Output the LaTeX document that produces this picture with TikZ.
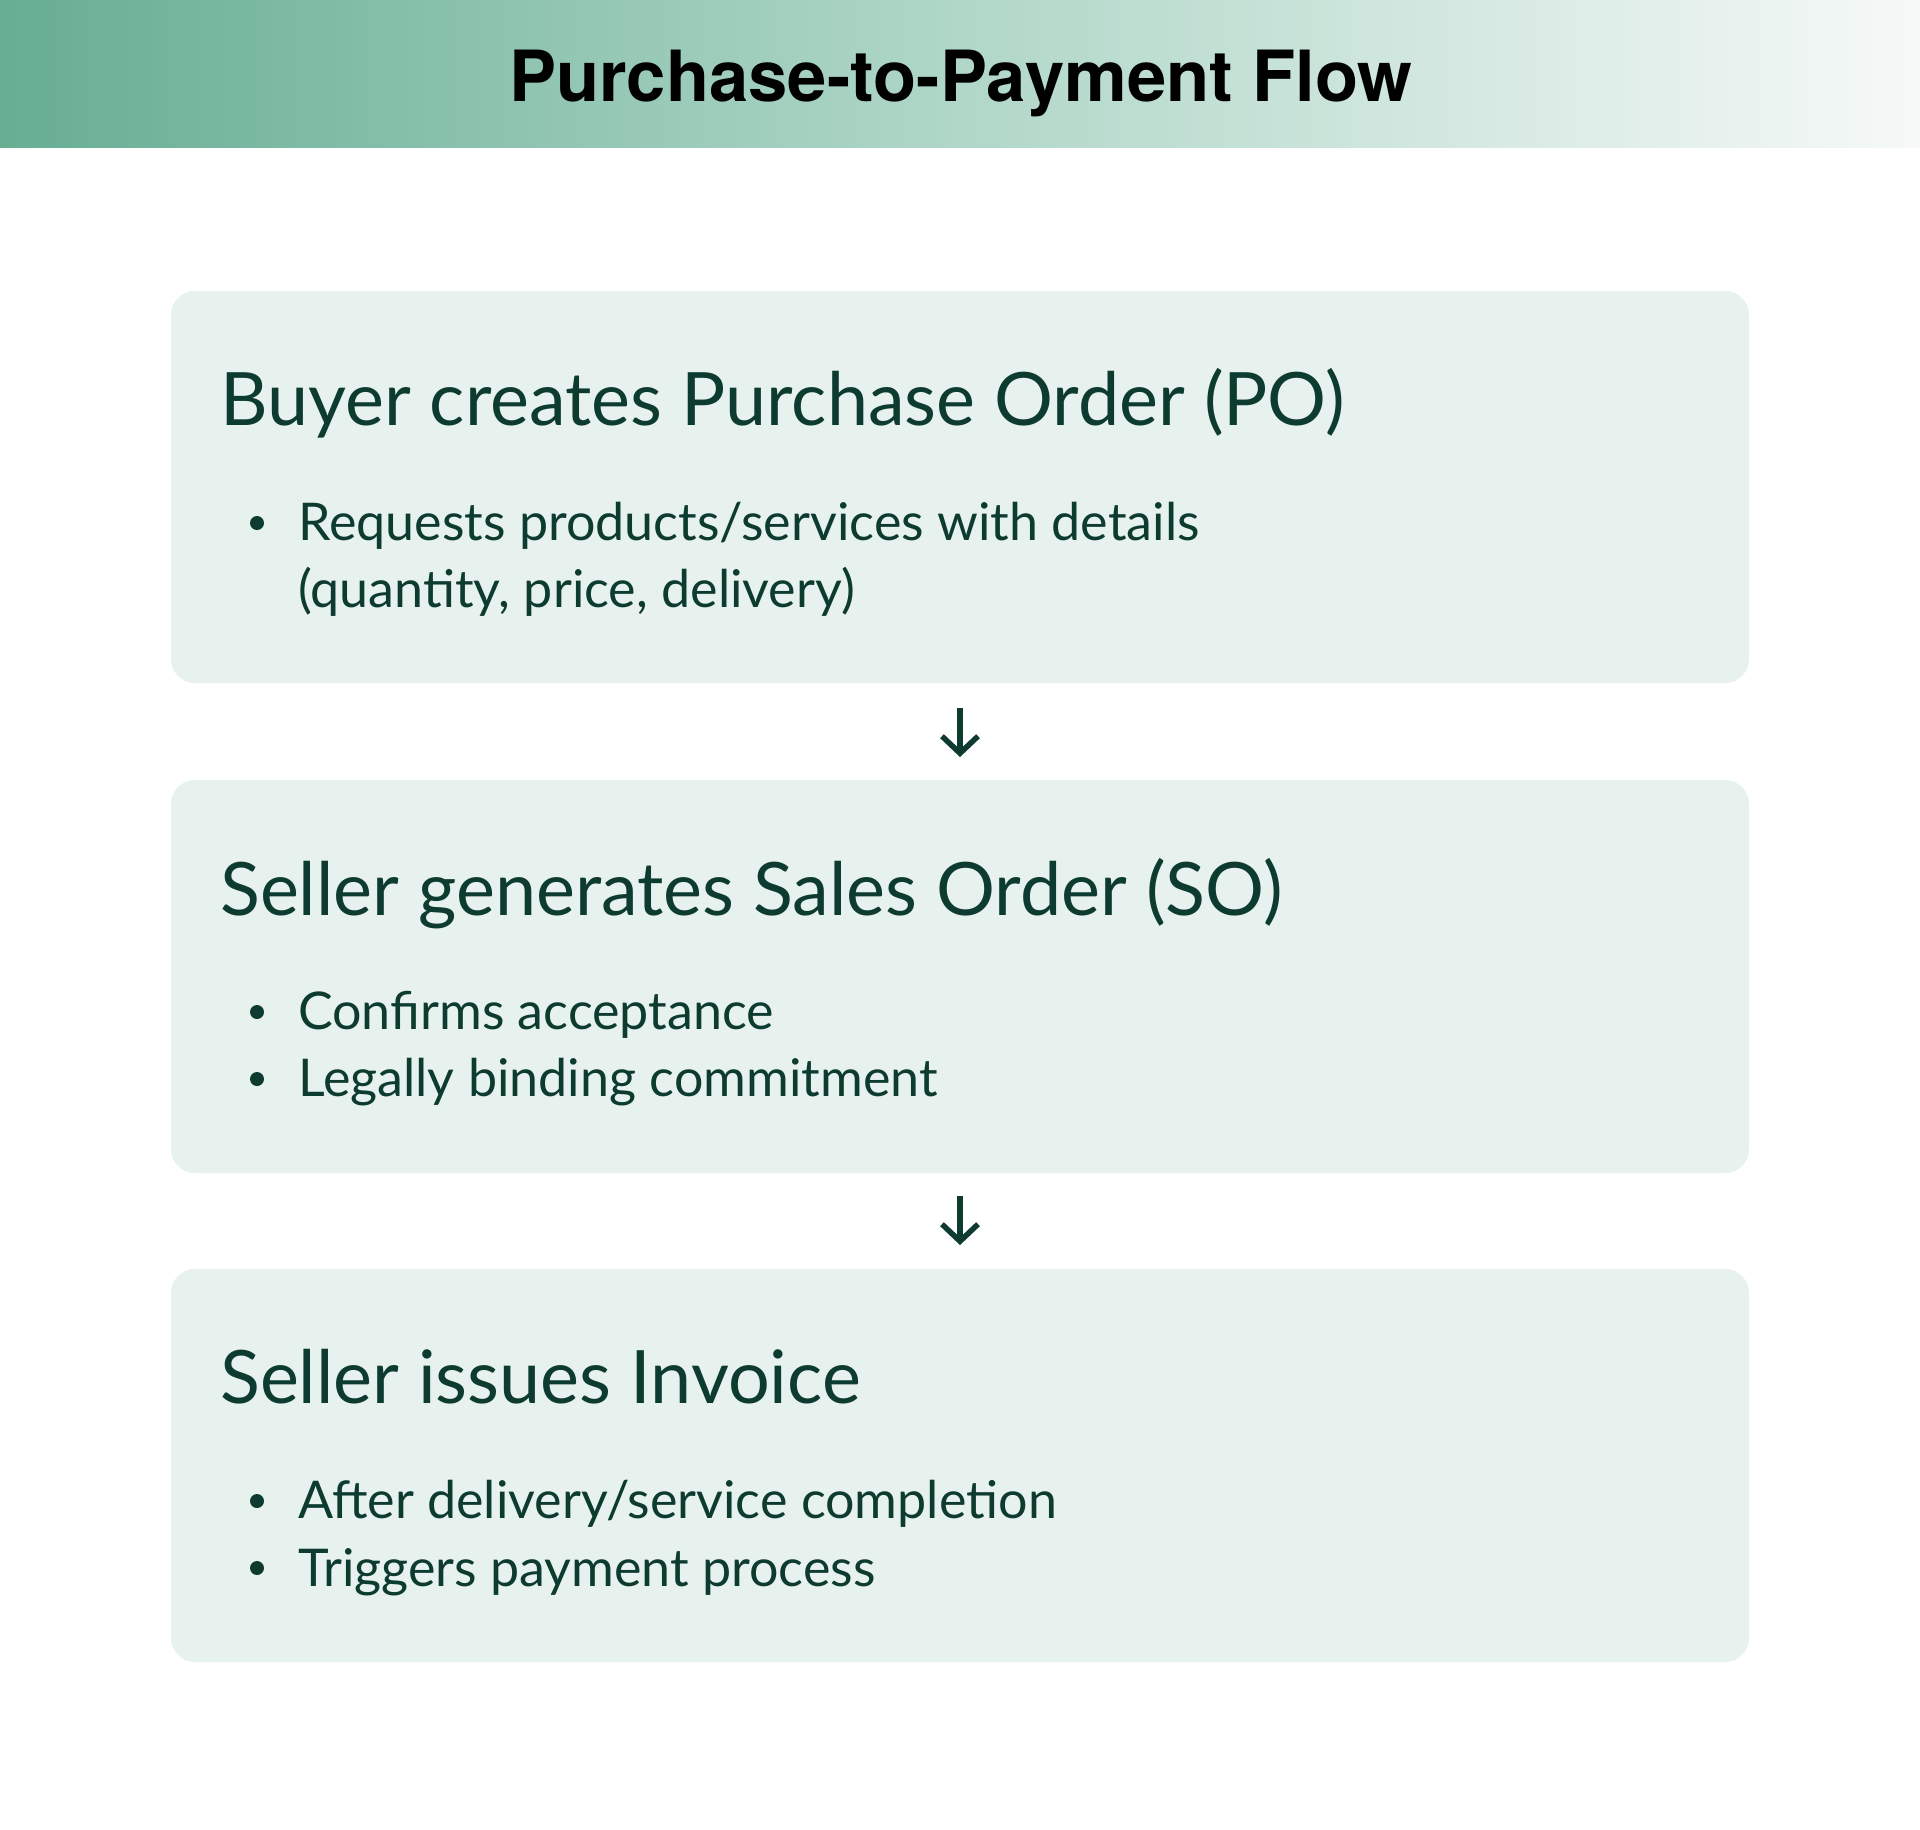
\documentclass[tikz,border=0pt]{standalone}
\usepackage{fontspec}
\setmainfont{Lato}
\newfontfamily\titlefont{TeX Gyre Heros}
\usetikzlibrary{arrows.meta}
\definecolor{ink}{HTML}{0D3B30}
\definecolor{boxfill}{HTML}{E7F1EE}
\definecolor{bannerL}{HTML}{67AE93}
\definecolor{bannerM}{HTML}{B0D7C8}
\definecolor{bannerR}{HTML}{F6F9F8}
\tikzset{
  card/.style={fill=boxfill, rounded corners=24pt},
  headtxt/.style={anchor=base west, inner sep=0pt, text=ink, font=\fontsize{73.7}{80}\selectfont},
  bodytxt/.style={anchor=base west, inner sep=0pt, text=ink, font=\fontsize{52}{60}\selectfont},
  bulletdot/.style={circle, fill=ink, inner sep=0pt, minimum size=14pt},
  flowarrow/.style={draw=ink, line width=5.5pt, -{Straight Barb[length=17pt,width=36pt,line width=5.5pt]}},
}
\begin{document}
\begin{tikzpicture}[x=1pt,y=-1pt]
\useasboundingbox (0,0) rectangle (1920,1829);
\fill[white] (0,0) rectangle (1920,1829);
\shade[left color=bannerL, right color=bannerR, middle color=bannerM] (0,0) rectangle (1920,147);
\node[anchor=base, inner sep=0pt, text=black, font=\titlefont\bfseries\fontsize{70.6}{76}\selectfont] (title) at (961,101) {Purchase-to-Payment Flow};

% cards
\fill[card] (171,291) rectangle (1749,683);
\fill[card] (171,780) rectangle (1749,1173);
\fill[card] (171,1269) rectangle (1749,1662);
\coordinate (c1b) at (960,708);
\coordinate (c2t) at (960,757);
\coordinate (c2b) at (960,1196);
\coordinate (c3t) at (960,1245);

\node[headtxt] (h1) at (220,425) {Buyer creates Purchase Order (PO)};
\node[bulletdot] (d11) at (257,523) {};
\node[bodytxt] (b11) at (298,540) {Requests products/services with details};
\node[bodytxt] (b12) at (298,607) {(quantity, price, delivery)};

\node[headtxt] (h2) at (220,915) {Seller generates Sales Order (SO)};
\node[bulletdot] (d21) at (257,1012) {};
\node[bodytxt] (b21) at (298,1029) {Confirms acceptance};
\node[bulletdot] (d22) at (257,1079) {};
\node[bodytxt] (b22) at (298,1096) {Legally binding commitment};

\node[headtxt] (h3) at (220,1403) {Seller issues Invoice};
\node[bulletdot] (d31) at (257,1501) {};
\node[bodytxt] (b31) at (298,1518) {After delivery/service completion};
\node[bulletdot] (d32) at (257,1568) {};
\node[bodytxt] (b32) at (298,1586) {Triggers payment process};

\draw[flowarrow] (c1b) -- (c2t);
\draw[flowarrow] (c2b) -- (c3t);
\end{tikzpicture}
\end{document}
